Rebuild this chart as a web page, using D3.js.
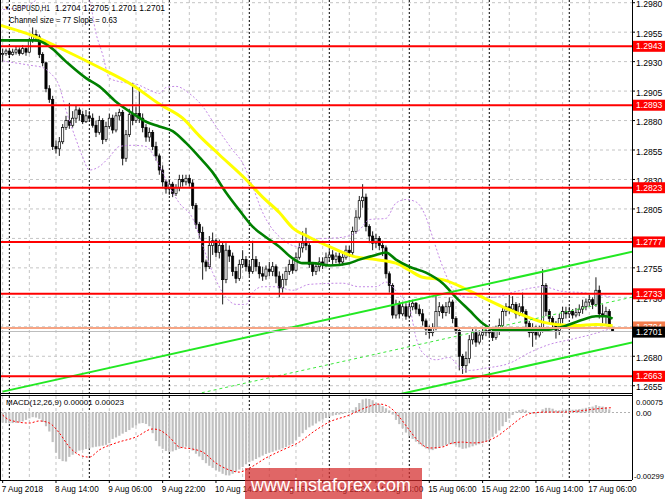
<!DOCTYPE html>
<html>
<head>
<meta charset="utf-8">
<script src="https://cdn.jsdelivr.net/npm/d3@7"></script>
<style>
  html, body { margin: 0; padding: 0; background: #fff; }
  svg { display: block; font-family: "Liberation Sans", Arial, sans-serif; }
</style>
</head>
<body>
<script>
// ---- Trading days shown (H1 bars, first bar 7 Aug 22:00, last bar 17 Aug 13:00)
const tradingDays = ["7 Aug", "8 Aug", "9 Aug", "10 Aug", "13 Aug", "14 Aug", "15 Aug", "16 Aug", "17 Aug"];
const firstHour = 22;
const lastHour = 13;

// ---- Candles (one value per hour)
const opens = [
  1.2936,1.2937,
  1.2939,1.2936,1.2938,1.2940,1.2937,1.2941,1.2938,1.2948,1.2953,1.2951,1.2936,1.2929,
  1.2907,1.2898,1.2858,1.2856,1.2862,1.2874,1.2880,1.2876,1.2882,1.2889,1.2885,1.2879,
  1.2884,1.2882,1.2876,1.2870,1.2880,1.2864,1.2875,1.2882,1.2872,1.2884,1.2887,1.2848,
  1.2868,1.2885,1.2880,1.2886,1.2882,1.2874,1.2866,1.2870,1.2858,1.2850,1.2838,1.2828,
  1.2822,1.2826,1.2818,1.2823,1.2830,1.2828,1.2831,1.2827,1.2808,1.2792,1.2785,1.2760,
  1.2756,1.2774,1.2778,1.2768,1.2774,1.2745,1.2770,1.2765,1.2752,1.2746,1.2758,1.2762,
  1.2756,1.2752,1.2762,1.2756,1.2750,1.2748,1.2754,1.2752,1.2756,1.2748,1.2738,1.2745,
  1.2752,1.2758,1.2753,1.2764,1.2772,1.2776,1.2774,1.2758,1.2752,1.2756,1.2760,1.2758,
  1.2764,1.2766,1.2762,1.2765,1.2760,1.2764,1.2770,1.2768,1.2786,1.2798,1.2812,1.2815,
  1.2790,1.2782,1.2776,1.2780,1.2774,1.2772,1.2750,1.2740,1.2715,1.2724,1.2716,1.2722,
  1.2714,1.2722,1.2725,1.2720,1.2716,1.2710,1.2703,1.2700,1.2704,1.2718,1.2722,1.2717,
  1.2722,1.2726,1.2712,1.2702,1.2680,1.2672,1.2678,1.2694,1.2700,1.2692,1.2698,1.2700,
  1.2702,1.2700,1.2696,1.2703,1.2706,1.2718,1.2722,1.2720,1.2724,1.2716,1.2722,1.2718,
  1.2708,1.2700,1.2704,1.2698,1.2703,1.2740,1.2718,1.2712,1.2708,1.2702,1.2712,1.2718,
  1.2716,1.2718,1.2715,1.2717,1.2720,1.2722,1.2726,1.2728,1.2724,1.2736,1.2716,1.2714,
  1.2718,1.2704
];
const highs = [
  1.2941,1.2941,
  1.2940,1.2941,1.2943,1.2942,1.2944,1.2942,1.2950,1.2959,1.2957,1.2953,1.2938,1.2930,
  1.2910,1.2901,1.2863,1.2866,1.2877,1.2884,1.2895,1.2888,1.2893,1.2891,1.2888,1.2889,
  1.2888,1.2886,1.2880,1.2884,1.2882,1.2879,1.2886,1.2885,1.2887,1.2890,1.2889,1.2872,
  1.2890,1.2912,1.2892,1.2908,1.2886,1.2877,1.2874,1.2872,1.2862,1.2852,1.2842,1.2830,
  1.2830,1.2828,1.2826,1.2834,1.2834,1.2834,1.2834,1.2830,1.2810,1.2794,1.2790,1.2762,
  1.2782,1.2785,1.2780,1.2779,1.2777,1.2776,1.2774,1.2768,1.2756,1.2762,1.2770,1.2765,
  1.2760,1.2778,1.2765,1.2760,1.2756,1.2757,1.2760,1.2760,1.2758,1.2752,1.2750,1.2756,
  1.2762,1.2762,1.2768,1.2776,1.2786,1.2789,1.2776,1.2760,1.2760,1.2764,1.2764,1.2768,
  1.2770,1.2770,1.2768,1.2768,1.2767,1.2774,1.2774,1.2790,1.2804,1.2816,1.2826,1.2818,
  1.2792,1.2786,1.2784,1.2782,1.2778,1.2774,1.2752,1.2742,1.2728,1.2727,1.2726,1.2725,
  1.2726,1.2728,1.2726,1.2724,1.2720,1.2712,1.2706,1.2708,1.2732,1.2726,1.2724,1.2726,
  1.2730,1.2728,1.2714,1.2704,1.2682,1.2684,1.2698,1.2704,1.2703,1.2702,1.2704,1.2705,
  1.2704,1.2703,1.2706,1.2712,1.2722,1.2725,1.2732,1.2731,1.2726,1.2725,1.2734,1.2720,
  1.2710,1.2708,1.2706,1.2706,1.2754,1.2742,1.2720,1.2714,1.2710,1.2716,1.2722,1.2722,
  1.2722,1.2720,1.2721,1.2724,1.2728,1.2729,1.2732,1.2730,1.2747,1.2740,1.2724,1.2722,
  1.2720,1.2705
];
const lows = [
  1.2930,1.2935,
  1.2933,1.2935,1.2936,1.2935,1.2936,1.2935,1.2937,1.2946,1.2947,1.2933,1.2926,1.2904,
  1.2895,1.2855,1.2852,1.2850,1.2860,1.2872,1.2873,1.2874,1.2878,1.2880,1.2877,1.2878,
  1.2879,1.2874,1.2866,1.2868,1.2860,1.2862,1.2873,1.2869,1.2870,1.2880,1.2842,1.2845,
  1.2866,1.2876,1.2878,1.2878,1.2870,1.2862,1.2862,1.2855,1.2846,1.2834,1.2824,1.2818,
  1.2817,1.2815,1.2816,1.2820,1.2824,1.2825,1.2824,1.2805,1.2788,1.2780,1.2745,1.2752,
  1.2754,1.2766,1.2764,1.2763,1.2724,1.2742,1.2760,1.2748,1.2742,1.2744,1.2755,1.2752,
  1.2748,1.2750,1.2752,1.2746,1.2744,1.2745,1.2748,1.2748,1.2742,1.2730,1.2734,1.2740,
  1.2749,1.2750,1.2752,1.2762,1.2768,1.2770,1.2755,1.2748,1.2749,1.2752,1.2754,1.2756,
  1.2760,1.2758,1.2759,1.2757,1.2757,1.2762,1.2764,1.2766,1.2784,1.2796,1.2806,1.2786,
  1.2776,1.2770,1.2772,1.2770,1.2765,1.2746,1.2734,1.2712,1.2712,1.2712,1.2714,1.2711,
  1.2712,1.2719,1.2716,1.2714,1.2706,1.2698,1.2695,1.2697,1.2702,1.2714,1.2712,1.2714,
  1.2716,1.2708,1.2699,1.2668,1.2665,1.2666,1.2674,1.2690,1.2688,1.2690,1.2694,1.2697,
  1.2697,1.2693,1.2694,1.2698,1.2704,1.2714,1.2716,1.2718,1.2712,1.2714,1.2715,1.2704,
  1.2696,1.2688,1.2694,1.2696,1.2700,1.2714,1.2708,1.2704,1.2695,1.2698,1.2708,1.2712,
  1.2714,1.2712,1.2713,1.2714,1.2716,1.2719,1.2722,1.2720,1.2722,1.2712,1.2708,1.2706,
  1.2703,1.2701
];
const closes = [
  1.2937,1.2939,
  1.2936,1.2938,1.2940,1.2937,1.2941,1.2938,1.2948,1.2953,1.2951,1.2936,1.2929,1.2907,
  1.2898,1.2858,1.2856,1.2862,1.2874,1.2880,1.2876,1.2882,1.2889,1.2885,1.2879,1.2884,
  1.2882,1.2876,1.2870,1.2880,1.2864,1.2875,1.2882,1.2872,1.2884,1.2887,1.2848,1.2868,
  1.2885,1.2880,1.2886,1.2882,1.2874,1.2866,1.2870,1.2858,1.2850,1.2838,1.2828,1.2822,
  1.2826,1.2818,1.2823,1.2830,1.2828,1.2831,1.2827,1.2808,1.2792,1.2785,1.2760,1.2756,
  1.2774,1.2778,1.2768,1.2774,1.2745,1.2770,1.2765,1.2752,1.2746,1.2758,1.2762,1.2756,
  1.2752,1.2762,1.2756,1.2750,1.2748,1.2754,1.2752,1.2756,1.2748,1.2738,1.2745,1.2752,
  1.2758,1.2753,1.2764,1.2772,1.2776,1.2774,1.2758,1.2752,1.2756,1.2760,1.2758,1.2764,
  1.2766,1.2762,1.2765,1.2760,1.2764,1.2770,1.2768,1.2786,1.2798,1.2812,1.2815,1.2790,
  1.2782,1.2776,1.2780,1.2774,1.2772,1.2750,1.2740,1.2715,1.2724,1.2716,1.2722,1.2714,
  1.2722,1.2725,1.2720,1.2716,1.2710,1.2703,1.2700,1.2704,1.2718,1.2722,1.2717,1.2722,
  1.2726,1.2712,1.2702,1.2680,1.2672,1.2678,1.2694,1.2700,1.2692,1.2698,1.2700,1.2702,
  1.2700,1.2696,1.2703,1.2706,1.2718,1.2722,1.2720,1.2724,1.2716,1.2722,1.2718,1.2708,
  1.2700,1.2704,1.2698,1.2703,1.2740,1.2718,1.2712,1.2708,1.2702,1.2712,1.2718,1.2716,
  1.2718,1.2715,1.2717,1.2720,1.2722,1.2726,1.2728,1.2724,1.2736,1.2716,1.2714,1.2718,
  1.2704,1.2701
];

// ---- Indicator lines, sampled along the picture (bar index, value)
const yellowIdx  = [-1, 9, 19, 29, 39, 47, 54, 59, 65, 73, 78, 83, 87, 92, 98, 105, 112, 118, 122, 126, 132, 139, 144, 150, 156, 162, 166, 172, 178, 183];
const yellowVals = [1.2961,1.2952,1.2939,1.2925,1.2910,1.2894,1.2882,1.2867,1.2851,1.2830,1.2815,1.2802,1.2789,1.2781,1.2773,1.2765,1.2762,1.2759,1.2753,1.2747,1.2745,1.2737,1.2730,1.2722,1.2715,1.2709,1.2707,1.2706,1.2707,1.2706];

const greenIdx  = [-1, 10, 14, 19, 25, 29, 34, 39, 43, 47, 51, 55, 59, 63, 67, 71, 75, 79, 83, 87, 90, 93, 98, 104, 107, 112, 115, 118, 122, 127, 132, 136, 140, 144, 148, 154, 162, 168, 174, 178, 181, 183];
const greenVals = [1.2948,1.2948,1.2943,1.2930,1.2916,1.2909,1.2896,1.2886,1.2879,1.2875,1.2871,1.2861,1.2849,1.2836,1.2819,1.2804,1.2790,1.2781,1.2773,1.2763,1.2759,1.2759,1.2757,1.2759,1.2762,1.2766,1.2768,1.2762,1.2756,1.2751,1.2742,1.2730,1.2719,1.2708,1.2702,1.2702,1.2702,1.2705,1.2711,1.2714,1.2714,1.2712];

const bandUpIdx  = [-1, 7, 13, 20, 26, 28, 30, 32, 35, 40, 44, 47, 49, 52, 56, 60, 64, 69, 72, 75, 78, 84, 89, 92, 102, 107, 110, 115, 118, 121, 124, 127, 129, 132, 136, 140, 147, 154, 162, 168, 174, 183];
const bandUpVals = [1.2974,1.2977,1.2989,1.2999,1.2982,1.2954,1.2936,1.2916,1.2913,1.2911,1.2906,1.2903,1.2908,1.2909,1.2903,1.2892,1.2875,1.2855,1.2844,1.2824,1.2802,1.2779,1.2773,1.2779,1.2781,1.2787,1.2796,1.2797,1.2810,1.2813,1.2811,1.2798,1.2781,1.2756,1.2734,1.2730,1.2730,1.2735,1.2739,1.2735,1.2734,1.2730];

const bandLoIdx  = [-1, 8, 12, 14, 17, 19, 22, 24, 26, 29, 32, 35, 39, 43, 46, 50, 53, 57, 60, 63, 67, 70, 73, 75, 78, 82, 87, 92, 102, 107, 112, 115, 119, 122, 124, 126, 130, 134, 137, 140, 145, 152, 158, 164, 170, 176, 183];
const bandLoVals = [1.2931,1.2927,1.2925,1.2921,1.2909,1.2889,1.2864,1.2849,1.2838,1.2841,1.2849,1.2858,1.2859,1.2858,1.2847,1.2824,1.2810,1.2797,1.2774,1.2751,1.2730,1.2724,1.2724,1.2734,1.2739,1.2739,1.2736,1.2741,1.2742,1.2739,1.2739,1.2743,1.2732,1.2722,1.2696,1.2683,1.2677,1.2679,1.2671,1.2668,1.2670,1.2674,1.2683,1.2690,1.2694,1.2698,1.2704];

// ---- Regression channel (size 77, slope 0.63), two anchor bars
const channelIdx   = [0, 191];
const channelUpper = [1.26500, 1.27700];
const channelMid   = [1.26115, 1.27315];
const channelLower = [1.25730, 1.26930];

// ---- Horizontal levels
const redLevels = [1.2943, 1.2893, 1.2823, 1.2777, 1.2733, 1.2663];
const markLevel = 1.2704;
const bidLevel  = 1.2701;
const priceTicks = [1.2980, 1.2955, 1.2930, 1.2905, 1.2880, 1.2855, 1.2830, 1.2805, 1.2780, 1.2755, 1.2730, 1.2705, 1.2680, 1.2655];

// ---- MACD(12,26,9): main line per bar and sampled signal line
const macdMain = [
  -0.00048,-0.00050,-0.00051,-0.00050,-0.00049,-0.00047,-0.00042,-0.00035,-0.00028,-0.00022,-0.00024,-0.00030,
  -0.00045,-0.00065,-0.00090,-0.00140,-0.00190,-0.00220,-0.00230,-0.00232,-0.00210,-0.00200,-0.00190,-0.00180,
  -0.00177,-0.00173,-0.00170,-0.00165,-0.00162,-0.00160,-0.00157,-0.00153,-0.00145,-0.00125,-0.00118,-0.00110,
  -0.00100,-0.00092,-0.00083,-0.00072,-0.00062,-0.00052,-0.00050,-0.00054,-0.00065,-0.00098,-0.00135,-0.00160,
  -0.00172,-0.00182,-0.00186,-0.00184,-0.00178,-0.00172,-0.00166,-0.00162,-0.00170,-0.00180,-0.00195,-0.00208,
  -0.00225,-0.00240,-0.00252,-0.00262,-0.00272,-0.00280,-0.00290,-0.00297,-0.00298,-0.00290,-0.00280,-0.00270,
  -0.00258,-0.00245,-0.00235,-0.00228,-0.00220,-0.00212,-0.00204,-0.00196,-0.00190,-0.00186,-0.00180,-0.00176,
  -0.00170,-0.00163,-0.00156,-0.00148,-0.00130,-0.00115,-0.00098,-0.00082,-0.00070,-0.00062,-0.00052,-0.00042,
  -0.00034,-0.00026,-0.00020,-0.00015,-0.00012,-0.00010,-0.00007,-0.00003,0.00004,0.00012,0.00025,0.00045,
  0.00062,0.00066,0.00064,0.00058,0.00046,0.00040,0.00030,0.00020,0.00010,-0.00010,-0.00035,-0.00055,
  -0.00075,-0.00095,-0.00112,-0.00125,-0.00138,-0.00150,-0.00160,-0.00170,-0.00176,-0.00178,-0.00172,-0.00165,
  -0.00160,-0.00156,-0.00150,-0.00150,-0.00155,-0.00165,-0.00172,-0.00170,-0.00165,-0.00160,-0.00155,-0.00150,
  -0.00145,-0.00138,-0.00128,-0.00115,-0.00100,-0.00085,-0.00065,-0.00045,-0.00028,-0.00012,0.00005,0.00012,
  0.00015,0.00010,0.00002,-0.00005,-0.00006,-0.00002,0.00015,0.00022,0.00022,0.00018,0.00010,0.00010,
  0.00012,0.00014,0.00014,0.00013,0.00014,0.00016,0.00018,0.00022,0.00026,0.00028,0.00035,0.00030,
  0.00028,0.00025,0.00015,0.00001
];
const signalIdx  = [0, 2, 8, 11, 14, 17, 20, 23, 26, 29, 34, 40, 45, 47, 50, 53, 57, 60, 64, 68, 71, 74, 79, 84, 89, 94, 98, 104, 108, 113, 116, 119, 122, 125, 128, 132, 135, 138, 141, 144, 148, 152, 156, 159, 163, 168, 173, 178, 183];
const signalVals = [-0.00012,-0.00035,-0.00050,-0.00040,-0.00050,-0.00097,-0.00163,-0.00201,-0.00211,-0.00177,-0.00144,-0.00116,-0.00078,-0.00083,-0.00116,-0.00163,-0.00173,-0.00187,-0.00239,-0.00272,-0.00282,-0.00263,-0.00215,-0.00177,-0.00140,-0.00083,-0.00045,-0.00012,0.00017,0.00040,0.00026,-0.00021,-0.00083,-0.00140,-0.00168,-0.00163,-0.00144,-0.00140,-0.00144,-0.00140,-0.00116,-0.00069,-0.00021,-0.00002,0.00002,0.00002,0.00007,0.00017,0.00023];
const macdTicks = [0.00075, 0, -0.00299];

// ---- Time axis labels (bar keys) and their display text
const timeTickKeys  = ["7 Aug 22:00", "8 Aug 14:00", "9 Aug 06:00", "9 Aug 22:00", "10 Aug 14:00", "13 Aug 06:00", "13 Aug 22:00", "14 Aug 14:00", "15 Aug 06:00", "15 Aug 22:00", "16 Aug 14:00", "17 Aug 06:00"];
const timeTickTexts = ["7 Aug 2018", "8 Aug 14:00", "9 Aug 06:00", "9 Aug 22:00", "10 Aug 14:00", "13 Aug 06:00", "13 Aug 22:00", "14 Aug 14:00", "15 Aug 06:00", "15 Aug 22:00", "16 Aug 14:00", "17 Aug 06:00"];

// ==========================================
// Layout
// ==========================================
const W = 665, H = 499;
const plotR = 632;      // right edge of the panes
const mainB = 393;      // bottom of price pane
const macdT = 395, macdB = 480;

const pad = h => (h < 10 ? "0" : "") + h;
const bars = [];
tradingDays.forEach((day, di) => {
  const h0 = di === 0 ? firstHour : 0;
  const h1 = di === tradingDays.length - 1 ? lastHour : 23;
  for (let h = h0; h <= h1; h++) bars.push({ day, hour: h, key: `${day} ${pad(h)}:00` });
});

const svg = d3.select("body").append("svg")
  .attr("width", W)
  .attr("height", H)
  .attr("viewBox", `0 0 ${W} ${H}`);

const x  = d3.scaleLinear().domain([0, bars.length - 1]).range([2.67, 2.67 + (bars.length - 1) * 3.333]);
const y  = d3.scaleLinear().domain([1.2663, 1.2943]).range([376.3, 46.3]);
const ym = d3.scaleLinear().domain([0, -0.00299]).range([412.5, 475.7]);

const defs = svg.append("defs");
defs.append("clipPath").attr("id", "clip-main")
  .append("rect").attr("x", 0).attr("y", 0).attr("width", plotR).attr("height", mainB);
defs.append("clipPath").attr("id", "clip-macd")
  .append("rect").attr("x", 0).attr("y", macdT).attr("width", plotR).attr("height", macdB - macdT);

// ---- Grid: horizontal price grid, vertical grid every 8 bars, day separators
const grid = svg.append("g");
grid.selectAll("line.hgrid").data(priceTicks).join("line")
  .attr("x1", 0).attr("x2", plotR)
  .attr("y1", d => y(d)).attr("y2", d => y(d))
  .attr("stroke", "#c4c4c4").attr("stroke-dasharray", "3,3");

const gridBars = bars.map((b, i) => ({ b, i })).filter(d => [6, 14, 22].includes(d.b.hour));
grid.selectAll("line.vgrid").data(gridBars).join("line")
  .attr("x1", d => x(d.i)).attr("x2", d => x(d.i))
  .attr("y1", 0).attr("y2", macdB)
  .attr("stroke", "#c4c4c4").attr("stroke-dasharray", "3,3");

const dayBars = bars.map((b, i) => ({ b, i })).filter(d => d.b.hour === 0);
grid.selectAll("line.sep").data(dayBars).join("line")
  .attr("x1", d => x(d.i)).attr("x2", d => x(d.i))
  .attr("y1", 0).attr("y2", macdB)
  .attr("stroke", "#000").attr("stroke-dasharray", "2,2");

grid.append("line")
  .attr("x1", 0).attr("x2", plotR).attr("y1", ym(0)).attr("y2", ym(0))
  .attr("stroke", "#b0b0b0").attr("stroke-dasharray", "2,2");

// ---- Price pane
const main = svg.append("g").attr("clip-path", "url(#clip-main)");

const line = d3.line().x(d => x(d[0])).y(d => y(d[1])).curve(d3.curveMonotoneX);

// candles
const candles = main.selectAll("g.candle").data(d3.range(closes.length)).join("g");
candles.append("line")
  .attr("x1", i => x(i)).attr("x2", i => x(i))
  .attr("y1", i => y(highs[i])).attr("y2", i => y(lows[i]))
  .attr("stroke", "#000").attr("stroke-width", 0.9);
candles.append("rect")
  .attr("x", i => x(i) - 1.1)
  .attr("width", 2.2)
  .attr("y", i => y(Math.max(opens[i], closes[i])))
  .attr("height", i => Math.max(0.8, Math.abs(y(opens[i]) - y(closes[i]))))
  .attr("fill", i => closes[i] >= opens[i] ? "#fff" : "#000")
  .attr("stroke", "#000").attr("stroke-width", 0.7);

// bands (dotted violet)
[[bandUpIdx, bandUpVals], [bandLoIdx, bandLoVals]].forEach(([idx, vals]) => {
  main.append("path")
    .attr("d", line(d3.zip(idx, vals)))
    .attr("fill", "none").attr("stroke", "#c58ae6").attr("stroke-width", 1)
    .attr("stroke-dasharray", "2,2");
});

// moving averages
main.append("path")
  .attr("d", line(d3.zip(yellowIdx, yellowVals)))
  .attr("fill", "none").attr("stroke", "#ffff00").attr("stroke-width", 3);
main.append("path")
  .attr("d", line(d3.zip(greenIdx, greenVals)))
  .attr("fill", "none").attr("stroke", "#008000").attr("stroke-width", 2.6);

// channel
const straight = d3.line().x(d => x(d[0])).y(d => y(d[1]));
main.append("path").attr("d", straight(d3.zip(channelIdx, channelUpper)))
  .attr("stroke", "#22e822").attr("stroke-width", 2).attr("fill", "none");
main.append("path").attr("d", straight(d3.zip(channelIdx, channelLower)))
  .attr("stroke", "#22e822").attr("stroke-width", 2).attr("fill", "none");
main.append("path").attr("d", straight(d3.zip(channelIdx, channelMid)))
  .attr("stroke", "#3ee83e").attr("stroke-width", 1).attr("stroke-dasharray", "3,3").attr("fill", "none");

// red support / resistance levels
main.selectAll("line.level").data(redLevels).join("line")
  .attr("x1", 0).attr("x2", plotR)
  .attr("y1", d => y(d)).attr("y2", d => y(d))
  .attr("stroke", "#ff0000").attr("stroke-width", 2);

// current price lines
main.append("line").attr("x1", 0).attr("x2", plotR)
  .attr("y1", y(markLevel)).attr("y2", y(markLevel))
  .attr("stroke", "#f6a585").attr("stroke-width", 1.8);
main.append("line").attr("x1", 0).attr("x2", plotR)
  .attr("y1", y(bidLevel)).attr("y2", y(bidLevel))
  .attr("stroke", "#bdbdbd").attr("stroke-width", 1);

// ---- MACD pane
const macd = svg.append("g").attr("clip-path", "url(#clip-macd)");
macd.selectAll("rect.hist").data(macdMain).join("rect")
  .attr("x", (d, i) => x(i) - 1.1)
  .attr("width", 2.2)
  .attr("y", d => Math.min(ym(d), ym(0)))
  .attr("height", d => Math.abs(ym(d) - ym(0)))
  .attr("fill", "#c0c0c0");
macd.append("path")
  .attr("d", d3.line().x(d => x(d[0])).y(d => ym(d[1])).curve(d3.curveMonotoneX)(d3.zip(signalIdx, signalVals)))
  .attr("fill", "none").attr("stroke", "#ff0000").attr("stroke-width", 1).attr("stroke-dasharray", "2,2");

// ---- Frames
const frame = svg.append("g").attr("stroke", "#000").attr("fill", "none");
frame.append("line").attr("x1", plotR + 0.5).attr("x2", plotR + 0.5).attr("y1", 0).attr("y2", macdB);
frame.append("line").attr("x1", 0.5).attr("x2", 0.5).attr("y1", 0).attr("y2", macdB);
frame.append("line").attr("x1", 0).attr("x2", plotR).attr("y1", mainB + 0.5).attr("y2", mainB + 0.5);
frame.append("line").attr("x1", 0).attr("x2", plotR).attr("y1", macdT + 0.5).attr("y2", macdT + 0.5);
frame.append("line").attr("x1", 0).attr("x2", plotR).attr("y1", macdB + 0.5).attr("y2", macdB + 0.5);

// ---- Right price axis
const axis = svg.append("g").style("font-size", "8.6px");
axis.selectAll("line.ptick").data(priceTicks).join("line")
  .attr("x1", plotR).attr("x2", plotR + 3)
  .attr("y1", d => y(d)).attr("y2", d => y(d)).attr("stroke", "#000");
axis.selectAll("text.ptick").data(priceTicks).join("text")
  .attr("x", 636).attr("y", d => y(d) + 1.5)
  .attr("dy", "0.35em").text(d => d.toFixed(4));

const boxes = axis.selectAll("g.redbox").data(redLevels).join("g")
  .attr("transform", d => `translate(633, ${y(d)})`);
boxes.append("rect").attr("x", 0).attr("y", -5.5).attr("width", 32).attr("height", 11).attr("fill", "#ff0000");
boxes.append("text").attr("x", 3).attr("dy", "0.35em").attr("fill", "#fff").text(d => d.toFixed(4));

const markBox = axis.append("g").attr("transform", `translate(633, ${y(markLevel) - 1})`);
markBox.append("rect").attr("y", -5.5).attr("width", 32).attr("height", 11).attr("fill", "#f47c4c");
markBox.append("text").attr("x", 3).attr("dy", "0.35em").attr("fill", "#fff").text(markLevel.toFixed(4));
const bidBox = axis.append("g").attr("transform", `translate(633, ${y(bidLevel) + 0.6})`);
bidBox.append("rect").attr("y", -5.5).attr("width", 32).attr("height", 11).attr("fill", "#000");
bidBox.append("text").attr("x", 3).attr("dy", "0.35em").attr("fill", "#fff").text(bidLevel.toFixed(4));

// MACD scale (labels squeezed to fit the narrow margin)
axis.selectAll("text.mtick").data(macdTicks).join("text")
  .attr("x", d => d < 0 ? 634 : 636)
  .attr("y", d => Math.max(ym(d), macdT + 6) + 0.8)
  .attr("dy", "0.35em")
  .style("font-size", "8px")
  .attr("textLength", d => d === 0 ? null : (d < 0 ? 30 : 27))
  .attr("lengthAdjust", "spacingAndGlyphs")
  .text(d => d === 0 ? "0.00" : d.toFixed(5));

// ---- Time axis
const tickBars = timeTickKeys.map((k, n) => ({ i: bars.findIndex(b => b.key === k), text: timeTickTexts[n] }));
const taxis = svg.append("g").style("font-size", "8.2px");
taxis.selectAll("line").data(tickBars).join("line")
  .attr("x1", d => x(d.i)).attr("x2", d => x(d.i))
  .attr("y1", macdB).attr("y2", macdB + 3).attr("stroke", "#000");
taxis.selectAll("text").data(tickBars).join("text")
  .attr("x", d => x(d.i) - 1)
  .attr("y", 492)
  .text(d => d.text);

// ---- Titles
const titles = svg.append("g").style("font-size", "8.6px");
titles.append("text").attr("x", 4).attr("y", 10).style("font-size", "6px").text("▼");
titles.append("text").attr("x", 12).attr("y", 11)
  .attr("textLength", 38).attr("lengthAdjust", "spacingAndGlyphs").text("GBPUSD,H1");
titles.append("text").attr("x", 55).attr("y", 11)
  .attr("textLength", 110).attr("lengthAdjust", "spacingAndGlyphs").text("1.2704 1.2705 1.2701 1.2701");
titles.append("text").attr("x", 9).attr("y", 23)
  .attr("textLength", 108).attr("lengthAdjust", "spacingAndGlyphs").text("Channel size = 77 Slope = 0.63");
titles.append("text").attr("x", 6).attr("y", 405).style("font-size", "8px").text("MACD(12,26,9) 0.00001 0.00023");

// ---- Watermark
const wm = svg.append("g");
wm.append("rect").attr("x", 245).attr("y", 468).attr("width", 177).attr("height", 31)
  .attr("fill", "#d42b2b").attr("opacity", 0.72);
wm.append("text").attr("x", 251).attr("y", 491)
  .style("font-size", "18px").attr("fill", "#fff").text("www.instaforex.com");
</script>
</body>
</html>
